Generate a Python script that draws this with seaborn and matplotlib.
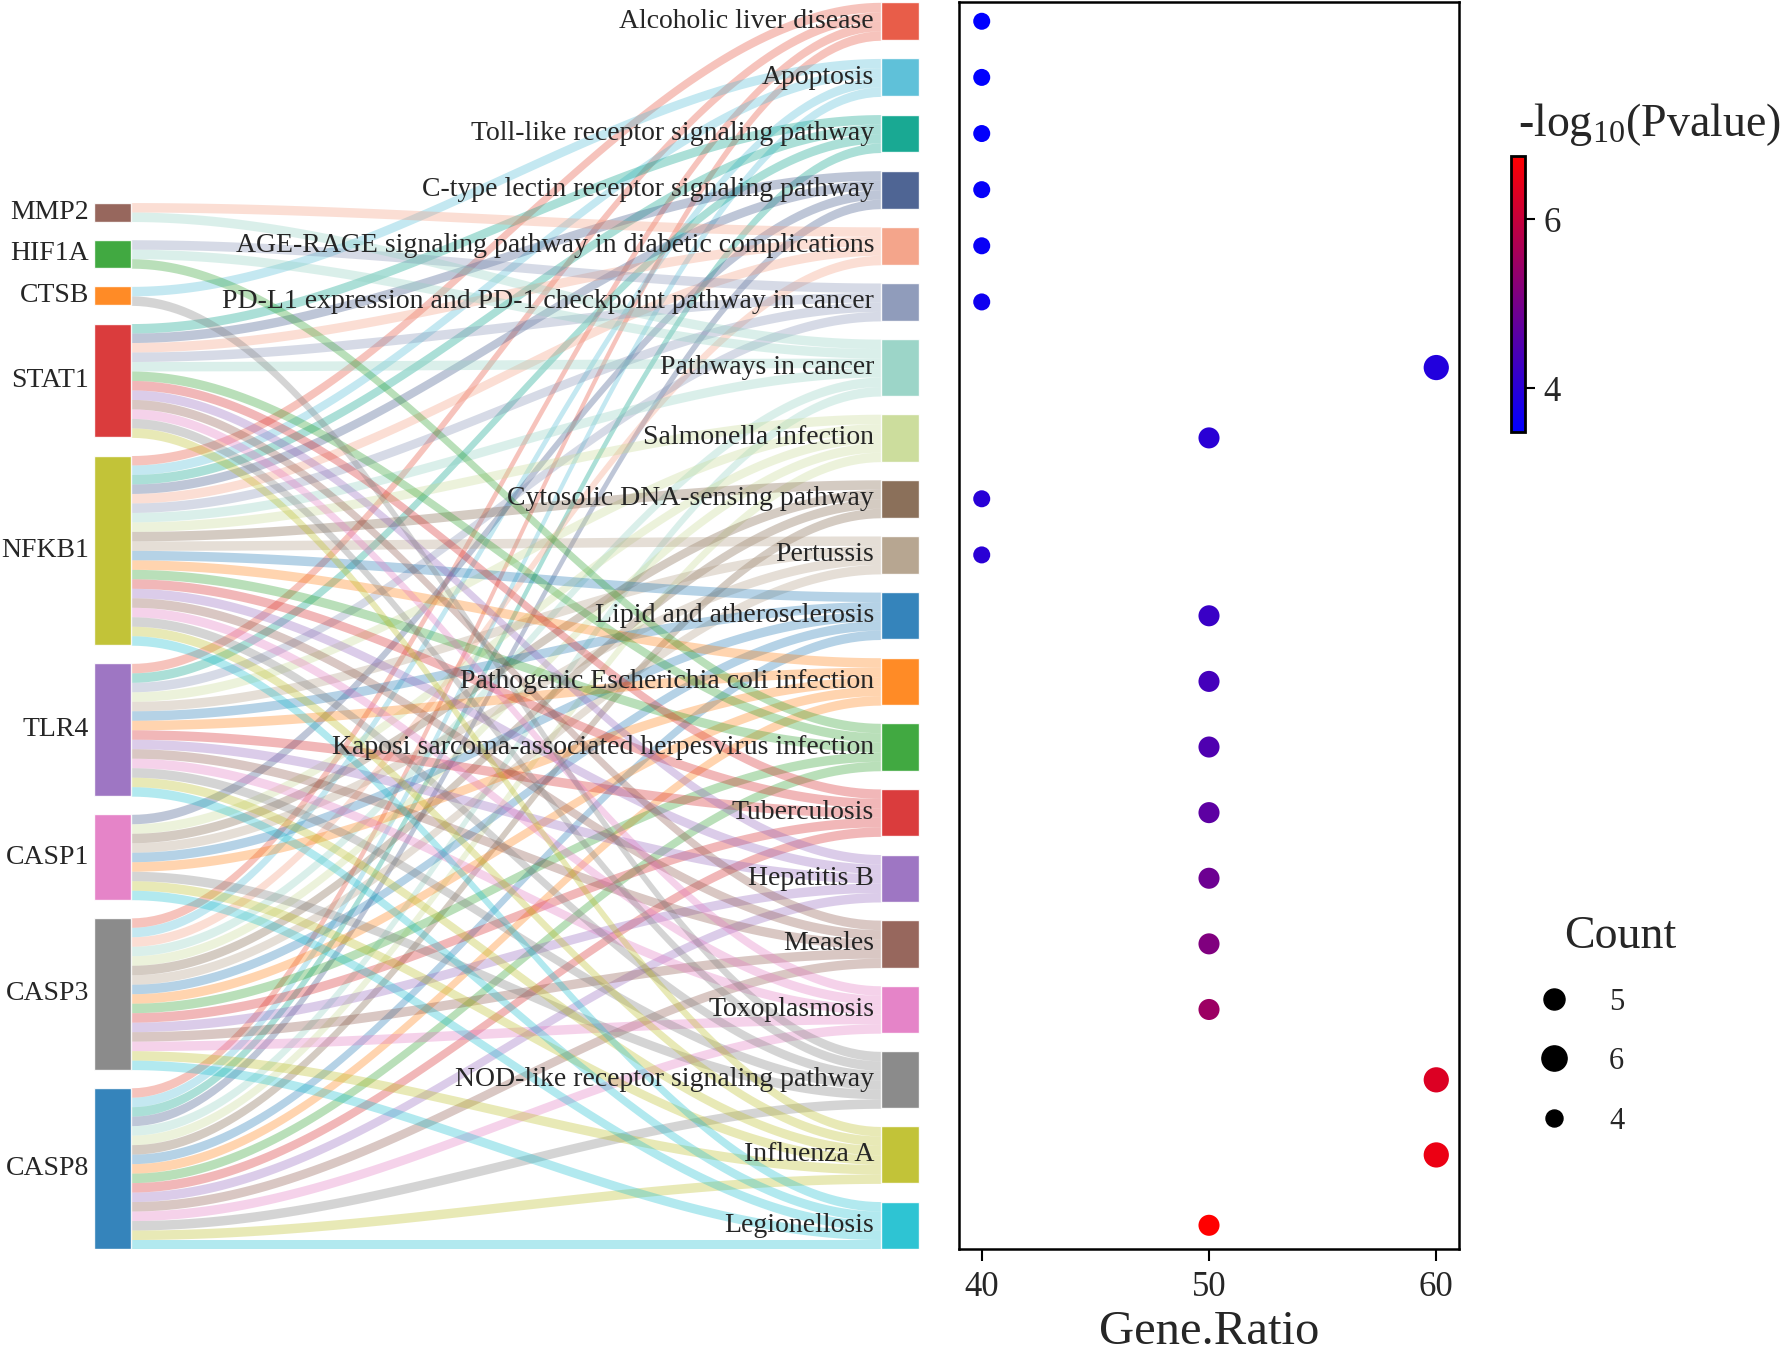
import numpy as np
import pandas as pd
import matplotlib
matplotlib.use("Agg")
import matplotlib.pyplot as plt
import seaborn as sns
from matplotlib.colors import LinearSegmentedColormap, Normalize
from matplotlib.cm import ScalarMappable
from matplotlib.lines import Line2D

# ---- data ----
genes = ["MMP2", "HIF1A", "CTSB", "STAT1", "NFKB1", "TLR4", "CASP1", "CASP3", "CASP8"]
gene_colors = ["#8c564b", "#2ca02c", "#ff7f0e", "#d62728", "#bcbd22",
               "#9467bd", "#e377c2", "#7f7f7f", "#1f77b4"]

pathways = [
    "Alcoholic liver disease",
    "Apoptosis",
    "Toll-like receptor signaling pathway",
    "C-type lectin receptor signaling pathway",
    "AGE-RAGE signaling pathway in diabetic complications",
    "PD-L1 expression and PD-1 checkpoint pathway in cancer",
    "Pathways in cancer",
    "Salmonella infection",
    "Cytosolic DNA-sensing pathway",
    "Pertussis",
    "Lipid and atherosclerosis",
    "Pathogenic Escherichia coli infection",
    "Kaposi sarcoma-associated herpesvirus infection",
    "Tuberculosis",
    "Hepatitis B",
    "Measles",
    "Toxoplasmosis",
    "NOD-like receptor signaling pathway",
    "Influenza A",
    "Legionellosis",
]
pathway_colors = ["#E64B35", "#4DBBD5", "#00A087", "#3C5488", "#F39B7F",
                  "#8491B4", "#91D1C2", "#C7DA93", "#7E6148", "#B09C85",
                  "#1f77b4", "#ff7f0e", "#2ca02c", "#d62728", "#9467bd",
                  "#8c564b", "#e377c2", "#7f7f7f", "#bcbd22", "#17becf"]

pathway_members = [
    ["NFKB1", "TLR4", "CASP3", "CASP8"],
    ["CTSB", "NFKB1", "CASP3", "CASP8"],
    ["STAT1", "NFKB1", "TLR4", "CASP8"],
    ["STAT1", "NFKB1", "CASP1", "CASP8"],
    ["MMP2", "STAT1", "NFKB1", "CASP3"],
    ["HIF1A", "STAT1", "NFKB1", "TLR4"],
    ["MMP2", "HIF1A", "STAT1", "NFKB1", "CASP3", "CASP8"],
    ["NFKB1", "TLR4", "CASP1", "CASP3", "CASP8"],
    ["NFKB1", "CASP1", "CASP3", "CASP8"],
    ["NFKB1", "TLR4", "CASP1", "CASP3"],
    ["NFKB1", "TLR4", "CASP1", "CASP3", "CASP8"],
    ["NFKB1", "TLR4", "CASP1", "CASP3", "CASP8"],
    ["HIF1A", "STAT1", "NFKB1", "CASP3", "CASP8"],
    ["STAT1", "NFKB1", "TLR4", "CASP3", "CASP8"],
    ["STAT1", "NFKB1", "TLR4", "CASP3", "CASP8"],
    ["STAT1", "NFKB1", "TLR4", "CASP3", "CASP8"],
    ["STAT1", "NFKB1", "TLR4", "CASP3", "CASP8"],
    ["CTSB", "STAT1", "NFKB1", "TLR4", "CASP1", "CASP8"],
    ["STAT1", "NFKB1", "TLR4", "CASP1", "CASP3", "CASP8"],
    ["NFKB1", "TLR4", "CASP1", "CASP3", "CASP8"],
]

gene_ratio = [40, 40, 40, 40, 40, 40, 60, 50, 40, 40,
              50, 50, 50, 50, 50, 50, 50, 60, 60, 50]
neg_log10_p = [3.48, 3.50, 3.53, 3.56, 3.60, 3.68, 3.92, 4.02, 4.00, 4.02,
               4.22, 4.36, 4.50, 4.68, 4.88, 5.12, 5.48, 6.30, 6.50, 6.75]

# ---- style ----
sns.set_theme(style="white")
plt.rcParams["font.family"] = ["Liberation Serif", "DejaVu Serif"]
plt.rcParams["mathtext.default"] = "regular"

W, H = 1785, 1354
fig = plt.figure(figsize=(W / 100, H / 100), dpi=100)

# ---- sankey layout (gene units) ----
gap = 1.92
counts = [len(m) for m in pathway_members]
gene_counts = [sum(g in m for m in pathway_members) for g in genes]
total = sum(counts) + gap * (len(pathways) - 1)
right_top = np.cumsum([0] + [c + gap for c in counts[:-1]])
left_span = sum(gene_counts) + gap * (len(genes) - 1)
left_top = total - left_span + np.cumsum([0] + [c + gap for c in gene_counts[:-1]])
right_mid = right_top + np.array(counts) / 2
left_mid = left_top + np.array(gene_counts) / 2

y_top_px, y_bot_px = 2.3, 1249
ax_bottom = 1 - y_bot_px / H
ax_height = (y_bot_px - y_top_px) / H

ax_s = fig.add_axes([0, ax_bottom, 940 / W, ax_height])
ax_s.set_xlim(0, 940)
ax_s.set_ylim(total, 0)
ax_s.axis("off")
xl0, xl1 = 94, 131
xr0, xr1 = 881, 919

t = np.linspace(0, 1, 100)
s = 3 * t ** 2 - 2 * t ** 3
xs = xl1 + (xr0 - xl1) * t
left_used = [0] * len(genes)
for j, members in enumerate(pathway_members):
    members = sorted(members, key=genes.index)
    for k, g in enumerate(members):
        i = genes.index(g)
        yl = left_top[i] + left_used[i]
        left_used[i] += 1
        yr = right_top[j] + k
        top = yl + (yr - yl) * s
        ax_s.fill_between(xs, top, top + 1, color=pathway_colors[j],
                          alpha=0.33, lw=0, zorder=1)

ax_s.barh(left_mid, xl1 - xl0, left=xl0, height=gene_counts,
          color=gene_colors, alpha=0.9, zorder=2)
ax_s.barh(right_mid, xr1 - xr0, left=xr0, height=counts,
          color=pathway_colors, alpha=0.9, zorder=2)

for g, y in zip(genes, left_mid):
    ax_s.text(xl0 - 5, y, g, ha="right", va="center", fontsize=20, zorder=3)
for p, y in zip(pathways, right_mid):
    ax_s.text(xr0 - 7, y, p, ha="right", va="center", fontsize=20, zorder=3)

# ---- dot plot ----
df = pd.DataFrame({
    "Pathway": pathways,
    "Gene.Ratio": gene_ratio,
    "Count": [str(c) for c in counts],
    "logp": neg_log10_p,
    "y": right_mid,
}).iloc[::-1]  # most significant first

cmap = LinearSegmentedColormap.from_list("bluered", ["#0000FF", "#FF0000"])
norm = Normalize(min(neg_log10_p), max(neg_log10_p))
size_map = {"4": 150, "5": 230, "6": 330}

ax_d = fig.add_axes([959 / W, ax_bottom, 500 / W, ax_height], sharey=ax_s)
sns.scatterplot(data=df, x="Gene.Ratio", y="y", hue="logp", hue_norm=norm,
                palette=cmap, size="Count", sizes=size_map, legend=False,
                linewidth=0, ax=ax_d)
ax_d.set_ylim(total, 0)
ax_d.set_xlim(39, 61)
ax_d.set_yticks([])
ax_d.set_ylabel("")
ax_d.set_xticks([40, 50, 60])
ax_d.set_xlabel("Gene.Ratio", fontsize=35, labelpad=5)
ax_d.tick_params(axis="x", bottom=True, direction="out", length=8.5, width=1.5,
                 labelsize=25, pad=7, color="black")
for sp in ax_d.spines.values():
    sp.set_color("black")
    sp.set_linewidth(1.8)

# ---- colorbar ----
cax = fig.add_axes([1511 / W, 1 - 432 / H, 14 / W, 276 / H])
cb = fig.colorbar(ScalarMappable(norm=norm, cmap=cmap), cax=cax, ticks=[4, 6])
cb.outline.set_linewidth(2)
cb.outline.set_edgecolor("black")
cax.tick_params(right=True, direction="out", length=7, width=1.5,
                labelsize=25, pad=6, color="black")
fig.text(1518 / W, 1 - 136 / H, r"-log$_{10}$(Pvalue)", fontsize=33,
         ha="left", va="baseline")

# ---- size legend ----
order = list(df["Count"].unique())
handles = [Line2D([], [], marker="o", ls="", color="black",
                  markersize=np.sqrt(size_map[c])) for c in order]
fig.text(1564 / W, 1 - 948 / H, "Count", fontsize=33, ha="left", va="baseline")
fig.legend(handles, order, loc="upper left",
           bbox_to_anchor=(1496 / W, 1 - 960 / H), frameon=False,
           fontsize=22, labelspacing=1.0, handletextpad=0.8, borderpad=0.4)

fig.savefig("out.png", dpi=100)
